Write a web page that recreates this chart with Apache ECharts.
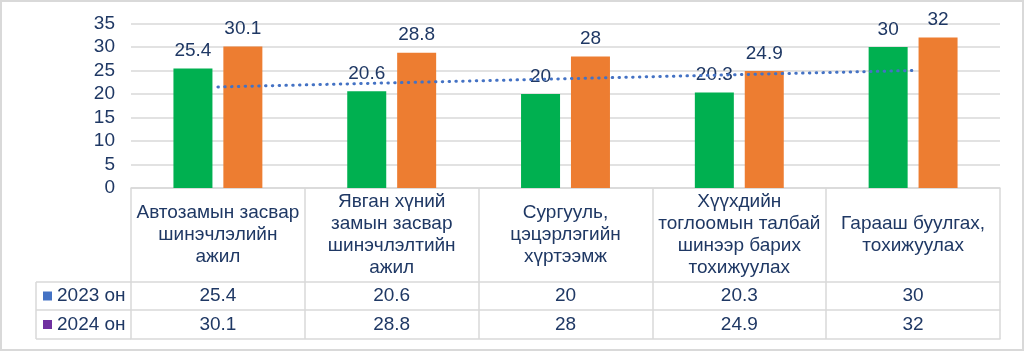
<!DOCTYPE html>
<html>
<head>
<meta charset="utf-8">
<style>
  html, body { margin: 0; padding: 0; background: #ffffff; }
  #wrap { position: relative; width: 1024px; height: 351px; }
  #chart { position: absolute; left: 0; top: 0; width: 1024px; height: 351px; }
  #frame { position: absolute; left: 0; top: 0; width: 1024px; height: 351px; box-sizing: border-box; border: 2px solid #D9D9D9; pointer-events: none; }
</style>
<script src="https://cdn.jsdelivr.net/npm/echarts@6/dist/echarts.min.js"></script>
</head>
<body>
<div id="wrap"><div id="chart"></div><div id="frame"></div></div>
<script>
// ---- data ----
const categories = [
  'Автозамын засвар\nшинэчлэлийн\nажил',
  'Явган хүний\nзамын засвар\nшинэчлэлтийн\nажил',
  'Сургууль,\nцэцэрлэгийн\nхүртээмж',
  'Хүүхдийн\nтоглоомын талбай\nшинээр барих\nтохижуулах',
  'Гарааш буулгах,\nтохижуулах'
];
const seriesNames = ['2023 он', '2024 он'];
const values2023 = [25.4, 20.6, 20, 20.3, 30];
const values2024 = [30.1, 28.8, 28, 24.9, 32];
// dotted trend line (first and last category)
const trendValues = [21.5, null, null, null, 25.0];
const yTicks = { min: 0, max: 35, interval: 5 };

// ---- layout ----
const L = 131, R = 1000, T = 23.5, B = 188;
const row1 = 282, row2 = 310, row3 = 339, legendLeft = 36;
const navy = '#1F3864';
const gridGrey = '#D9D9D9';
const font = '"Liberation Sans", Arial, sans-serif';
const fs = 19;

const chart = echarts.init(document.getElementById('chart'), null, { renderer: 'canvas' });

function tableLine(x1, y1, x2, y2) {
  return { type: 'line', silent: true, shape: { x1, y1, x2, y2 }, style: { stroke: gridGrey, lineWidth: 1.5 } };
}

const option = {
  backgroundColor: '#ffffff',
  animation: false,
  textStyle: { fontFamily: font },
  grid: { left: L, right: 1024 - R, top: T, bottom: 351 - B, containLabel: false, outerBoundsMode: 'none' },
  legend: {
    orient: 'vertical',
    left: 43,
    top: 286.5,
    padding: 0,
    itemGap: 9.5,
    icon: 'rect',
    itemWidth: 9,
    itemHeight: 9,
    selectedMode: false,
    textStyle: { color: navy, fontSize: fs, fontFamily: font, lineHeight: 19 },
    data: [
      { name: seriesNames[0], itemStyle: { color: '#4472C4' } },
      { name: seriesNames[1], itemStyle: { color: '#7030A0' } }
    ]
  },
  xAxis: [
    {
      type: 'category', data: categories, position: 'bottom',
      axisLine: { show: true, lineStyle: { color: gridGrey, width: 1.5 } },
      axisTick: { show: true, length: row3 - B, interval: 0, alignWithLabel: false, lineStyle: { color: gridGrey, width: 1.5 } },
      axisLabel: { interval: 0, color: navy, fontSize: fs, lineHeight: 22, fontFamily: font, margin: (row1 - B) / 2, verticalAlign: 'middle', align: 'center' }
    },
    {
      type: 'category', data: categories, position: 'bottom', offset: row1 - B,
      axisLine: { show: true, lineStyle: { color: gridGrey, width: 1.5 } },
      axisTick: { show: false },
      axisLabel: { interval: 0, color: navy, fontSize: fs, fontFamily: font, margin: (row2 - row1) / 2, verticalAlign: 'middle',
        formatter: (v, i) => String(values2023[i]) }
    },
    {
      type: 'category', data: categories, position: 'bottom', offset: row2 - B,
      axisLine: { show: true, lineStyle: { color: gridGrey, width: 1.5 } },
      axisTick: { show: false },
      axisLabel: { interval: 0, color: navy, fontSize: fs, fontFamily: font, margin: (row3 - row2) / 2, verticalAlign: 'middle',
        formatter: (v, i) => String(values2024[i]) }
    },
    {
      type: 'category', data: categories, position: 'bottom', offset: row3 - B,
      axisLine: { show: true, lineStyle: { color: gridGrey, width: 1.5 } },
      axisTick: { show: false },
      axisLabel: { show: false }
    }
  ],
  yAxis: {
    type: 'value', min: yTicks.min, max: yTicks.max, interval: yTicks.interval,
    axisLine: { show: false }, axisTick: { show: false },
    splitLine: { show: true, lineStyle: { color: gridGrey, width: 1.5 } },
    axisLabel: { color: navy, fontSize: fs, fontFamily: font, margin: 16 }
  },
  series: [
    {
      name: seriesNames[0], type: 'bar', data: values2023, barWidth: 39, barGap: '28%',
      itemStyle: { color: '#00B050' },
      label: { show: true, position: 'top', distance: 8, color: navy, fontSize: fs, fontFamily: font }
    },
    {
      name: seriesNames[1], type: 'bar', data: values2024, barWidth: 39, barGap: '28%',
      itemStyle: { color: '#ED7D31' },
      label: { show: true, position: 'top', distance: 8, color: navy, fontSize: fs, fontFamily: font }
    },
    {
      name: 'trend', type: 'line', data: trendValues, connectNulls: true, symbol: 'none', z: 10,
      lineStyle: { color: '#4472C4', width: 3, type: [0.5, 6.3], cap: 'round' },
      silent: true
    }
  ],
  graphic: [
    tableLine(legendLeft, row1, legendLeft, row3),
    tableLine(legendLeft, row1, L, row1),
    tableLine(legendLeft, row2, L, row2),
    tableLine(legendLeft, row3, L, row3)
  ]
};
chart.setOption(option);
</script>
</body>
</html>
